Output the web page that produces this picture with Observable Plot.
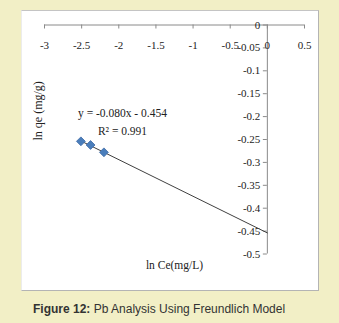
<!DOCTYPE html>
<html>
<head>
<meta charset="utf-8">
<script src="https://cdn.jsdelivr.net/npm/d3@7"></script>
<script src="https://cdn.jsdelivr.net/npm/@observablehq/plot@0.6"></script>
<style>
  html, body { margin: 0; padding: 0; }
  body { width: 339px; height: 323px; background: #f2efc6; position: relative; overflow: hidden; }
  #panel { position: absolute; left: 21px; top: 10px; width: 298px; height: 281px; background: #fff;
           border-top: 1px solid #c4c4c4; border-right: 1px solid #b4b4b4; border-bottom: 1px solid #b4b4b4; border-left: 1px solid #ececec; box-sizing: border-box; }
  #chart { position: absolute; left: 0; top: 0; }
  #caption { position: absolute; left: 33px; top: 302px; font: 12px "Liberation Sans", Arial, sans-serif; color: #333; white-space: nowrap; }
</style>
</head>
<body>
<div id="panel"></div>
<div id="chart"></div>
<div id="caption"><b>Figure 12:</b> Pb Analysis Using Freundlich Model</div>
<script>
// Data
const lnCe = [-2.51, -2.38, -2.20];
const lnQe = [-0.254, -0.262, -0.278];
const slope = -0.080;
const intercept = -0.454;
const xTicks = [-3, -2.5, -2, -1.5, -1, -0.5, 0, 0.5];
const xTickLabels = ["-3", "-2.5", "-2", "-1.5", "-1", "-0.5", "0", "0.5"];
const yTicks = [0, -0.05, -0.1, -0.15, -0.2, -0.25, -0.3, -0.35, -0.4, -0.45, -0.5];
const yTickLabels = ["0", "-0.05", "-0.1", "-0.15", "-0.2", "-0.25", "-0.3", "-0.35", "-0.4", "-0.45", "-0.5"];
const equationText = "y = -0.080x - 0.454";
const r2Text = "R\u00b2 = 0.991";

const points = lnCe.map((x, i) => ({x, y: lnQe[i]}));
const xStart = d3.min(lnCe);
const trend = [xStart, 0].map(x => ({x, y: slope * x + intercept}));
const xt = xTicks.map((v, i) => ({v, label: xTickLabels[i]}));
const yt = yTicks.map((v, i) => ({v, label: yTickLabels[i]}));

const serif = "'Liberation Serif', 'Times New Roman', serif";
const chart = Plot.plot({
  width: 339,
  height: 295,
  marginLeft: 44,
  marginRight: 35,
  marginTop: 24.5,
  marginBottom: 41.5,
  style: {background: "transparent", fontFamily: serif, fontSize: "11px", color: "#222"},
  x: {domain: [-3, 0.5], axis: null},
  y: {domain: [-0.5, 0], axis: null},
  marks: [
    // x axis line at y = 0
    Plot.ruleY([0], {x1: -3, x2: 0.5, stroke: "#8a8a8a", strokeWidth: 1}),
    // y axis line at x = 0
    Plot.ruleX([0], {y1: -0.5, y2: 0, stroke: "#8a8a8a", strokeWidth: 1}),
    // x ticks (pointing down)
    Plot.ruleX(xt, {x: "v", y1: 0, y2: 0, insetBottom: -4, stroke: "#8a8a8a"}),
    // y ticks (pointing left)
    Plot.ruleY(yt, {y: "v", x1: 0, x2: 0, insetLeft: -4, stroke: "#8a8a8a"}),
    // x tick labels
    Plot.text(xt, {x: "v", y: () => 0, text: "label", dy: 20.5, fill: "#222", style: {letterSpacing: "-0.6px"}}),
    // y tick labels
    Plot.text(yt, {x: () => 0, y: "v", text: "label", dx: -7, textAnchor: "end", fill: "#222", style: {letterSpacing: "-0.6px"}}),
    // trend line
    Plot.line(trend, {x: "x", y: "y", stroke: "#404040", strokeWidth: 1}),
    // data points
    Plot.dot(points, {x: "x", y: "y", symbol: "diamond2", r: 4, fill: "#4a7ebb", stroke: "#3d6aa6", strokeWidth: 0.8}),
    // equation annotation
    Plot.text([equationText], {x: -1.95, y: -0.193, text: d => d, fontSize: 11.5, fill: "#222", style: {letterSpacing: "-0.5px"}}),
    Plot.text([r2Text], {x: -1.95, y: -0.232, text: d => d, fontSize: 11.5, fill: "#222", style: {letterSpacing: "-0.5px"}}),
    // axis titles
    Plot.text(["ln Ce(mg/L)"], {frameAnchor: "bottom", dy: 14.5, text: d => d, fontSize: 11.5, fill: "#222", style: {letterSpacing: "-0.4px"}}),
    Plot.text(["ln qe (mg/g)"], {frameAnchor: "left", dx: -6, dy: 1, rotate: -90, text: d => d, fontSize: 12, fill: "#222", style: {letterSpacing: "0.8px"}})
  ]
});
document.getElementById("chart").appendChild(chart);
</script>
</body>
</html>
